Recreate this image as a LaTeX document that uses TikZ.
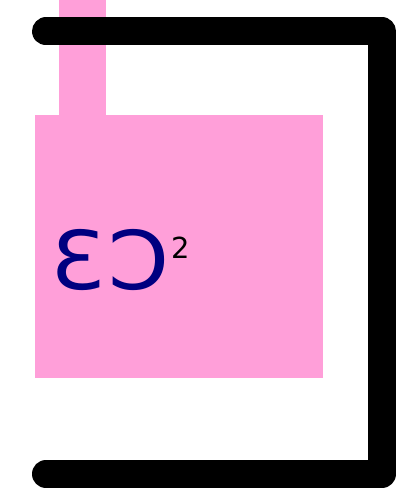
\documentclass[tikz,border=0pt]{standalone}
\usepackage{fontspec}
\usepackage{graphicx}
\setmainfont{DejaVu Sans}
\usetikzlibrary{positioning, calc}
\definecolor{padpink}{HTML}{FF9FD9}
\definecolor{silknavy}{HTML}{000080}

\begin{document}
\begin{tikzpicture}[
    x=1pt, y=1pt,
    padfill/.style={fill=padpink, draw=none},
    edgeline/.style={line width=28pt, line cap=round, line join=round},
    refdes/.style={text=silknavy, font=\fontsize{81}{81}\selectfont, inner sep=0pt, anchor=base west},
    layertag/.style={font=\fontsize{29}{29}\selectfont, inner sep=0pt, anchor=base west}
]
\useasboundingbox (0,0) rectangle (413,495);

% pad and its track
\fill[padfill] (58.5,379.5) rectangle (106,495);
\node[padfill, minimum width=288pt, minimum height=262.8pt, anchor=south west] (pad) at (34.5,116.7) {};

% board outline
\coordinate (topl) at (46,463.5);
\coordinate (topr) at (382,463.5);
\coordinate (botr) at (382,21);
\coordinate (botl) at (46,21);
\draw[edgeline] (topl) -- (topr) -- (botr) -- (botl);

% mirrored reference
\node[refdes] (ref) at (51,205) {\scalebox{-1.08}[1]{C\kern1pt3}};
\node[layertag] (tag) at (171,236) {2};

\end{tikzpicture}
\end{document}
